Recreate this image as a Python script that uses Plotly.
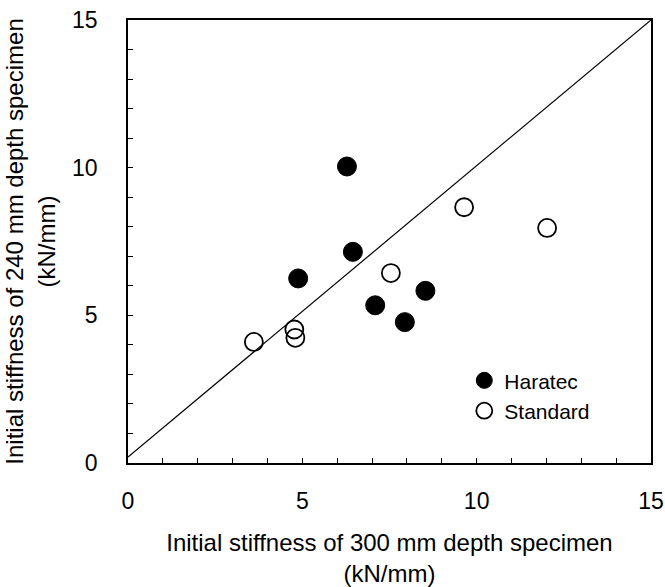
import plotly.graph_objects as go

# Data (kN/mm)
haratec_x = [6.28, 6.45, 4.88, 7.09, 7.94, 8.53]
haratec_y = [10.04, 7.15, 6.25, 5.34, 4.77, 5.83]
standard_x = [7.54, 4.80, 4.77, 3.61, 9.64, 12.02]
standard_y = [6.43, 4.24, 4.52, 4.10, 8.66, 7.96]
line_x = [0, 15]
line_y = [0.2, 15]
tick_vals = list(range(0, 16))
tick_text = [str(v) if v % 5 == 0 else "" for v in tick_vals]

FONT = "Liberation Sans, Arial, Helvetica, sans-serif"

fig = go.Figure()
fig.add_trace(go.Scatter(x=line_x, y=line_y, mode="lines",
                         line=dict(color="black", width=1.2),
                         showlegend=False, hoverinfo="skip"))
fig.add_trace(go.Scatter(x=haratec_x, y=haratec_y, mode="markers", name="Haratec",
                         marker=dict(symbol="circle", size=19, color="black",
                                     line=dict(color="black", width=1))))
fig.add_trace(go.Scatter(x=standard_x, y=standard_y, mode="markers", name="Standard",
                         marker=dict(symbol="circle-open", size=18, color="black",
                                     line=dict(color="black", width=1.8))))

axis_common = dict(
    range=[0, 15], tickvals=tick_vals, ticktext=tick_text,
    ticks="inside", ticklen=5, tickwidth=1, tickcolor="black",
    showline=True, linecolor="black", linewidth=1.5, mirror=True,
    showgrid=False, zeroline=False, automargin=False,
    tickfont=dict(family=FONT, size=23, color="black"),
)

fig.update_layout(
    width=665, height=587,
    margin=dict(l=128, r=14, t=20, b=124),
    paper_bgcolor="white", plot_bgcolor="white",
    font=dict(family=FONT, size=23, color="black"),
    xaxis=dict(**axis_common, ticklabelstandoff=17,
               title=dict(text="Initial stiffness of 300 mm depth specimen<br>(kN/mm)",
                          font=dict(family=FONT, size=24), standoff=22)),
    yaxis=dict(**axis_common, ticklabelstandoff=24,
               title=dict(text="Initial stiffness of 240 mm depth specimen<br>(kN/mm)",
                          font=dict(family=FONT, size=24), standoff=10)),
    legend=dict(x=0.643, y=0.232, xanchor="left", yanchor="top",
                bgcolor="rgba(0,0,0,0)", borderwidth=0,
                font=dict(family=FONT, size=21, color="black"),
                itemwidth=30, tracegroupgap=0),
    showlegend=True,
)

fig.write_html("out.html")
